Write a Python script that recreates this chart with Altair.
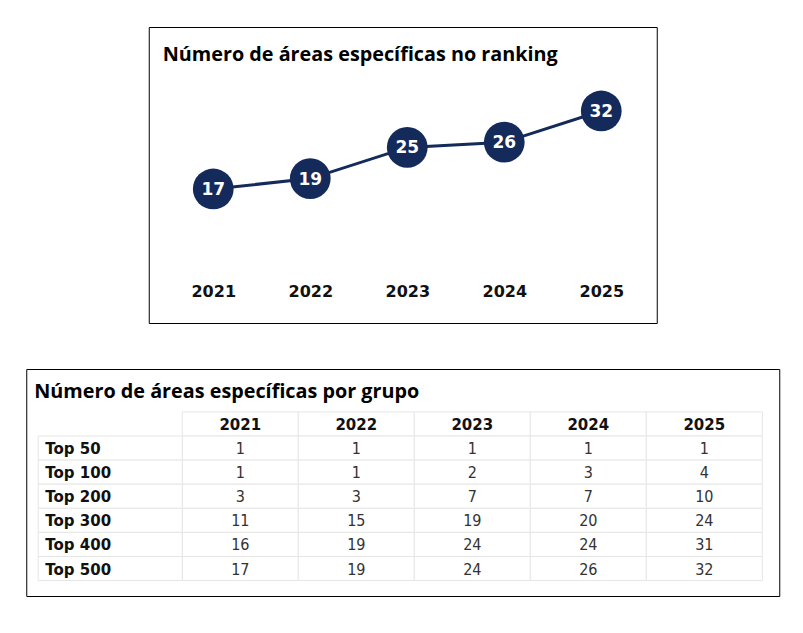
import altair as alt
import pandas as pd

years = [2021, 2022, 2023, 2024, 2025]
totals = [17, 19, 25, 26, 32]
groups = ["Top 50", "Top 100", "Top 200", "Top 300", "Top 400", "Top 500"]
table_values = {
    "Top 50": [1, 1, 1, 1, 1],
    "Top 100": [1, 1, 2, 3, 4],
    "Top 200": [3, 3, 7, 7, 10],
    "Top 300": [11, 15, 19, 20, 24],
    "Top 400": [16, 19, 24, 24, 31],
    "Top 500": [17, 19, 24, 26, 32],
}

NAVY = "#132a5a"

# ---------- top line chart ----------
line_df = pd.DataFrame({"year": years, "total": totals})
xs = alt.Scale(domain=[2020.335, 2025.572], nice=False, zero=False)
ys = alt.Scale(domain=[-8.77, 48.15], nice=False, zero=False)

base = alt.Chart(line_df).encode(
    x=alt.X("year:Q", scale=xs,
            axis=alt.Axis(title=None, values=years, format="d", grid=False,
                          domain=False, ticks=False, labelPadding=0, offset=-40,
                          labelFont="DejaVu Sans", labelFontWeight="bold",
                          labelFontSize=16, labelColor="#111111", labelFlush=False)),
    y=alt.Y("total:Q", scale=ys, axis=None),
)
line = base.mark_line(color=NAVY, strokeWidth=3)
dots = base.mark_circle(color=NAVY, size=1660, opacity=1)
labels = base.mark_text(color="white", font="DejaVu Sans", fontWeight="bold",
                        fontSize=17, baseline="middle", dy=1).encode(text="total:Q")

top = alt.layer(line, dots, labels).properties(
    width=508, height=296,
    title=alt.TitleParams("Número de áreas específicas no ranking", anchor="start",
                          font="Open Sans", fontSize=19.8, fontWeight="bold",
                          color="#000000", offset=-38, dx=14),
)

# ---------- bottom table ----------
rows = []
for i, g in enumerate(groups):
    for j, yr in enumerate(years):
        rows.append({"row": i + 1, "year": yr, "value": table_values[g][j], "group": g})
val_df = pd.DataFrame(rows)
head_df = pd.DataFrame({"row": [0] * len(years), "year": years})
lab_df = pd.DataFrame({"row": list(range(1, len(groups) + 1)), "group": groups})

txs = alt.Scale(domain=[2019.155, 2025.646], nice=False, zero=False)
tys = alt.Scale(domain=[-2.28, 7.14], nice=False, zero=False, reverse=True)

cell_style = dict(fill="white", stroke="#e6e6e6", strokeWidth=1)

year_cells = alt.Chart(pd.concat([head_df, val_df[["row", "year"]]])).transform_calculate(
    x0="datum.year - 0.5", x1="datum.year + 0.5",
    y0="datum.row - 0.5", y1="datum.row + 0.5",
).mark_rect(**cell_style).encode(
    x=alt.X("x0:Q", scale=txs, axis=None), x2="x1:Q",
    y=alt.Y("y0:Q", scale=tys, axis=None), y2="y1:Q",
)
label_cells = alt.Chart(lab_df).transform_calculate(
    x0="2019.258", x1="2020.5",
    y0="datum.row - 0.5", y1="datum.row + 0.5",
).mark_rect(**cell_style).encode(
    x=alt.X("x0:Q", scale=txs, axis=None), x2="x1:Q",
    y=alt.Y("y0:Q", scale=tys, axis=None), y2="y1:Q",
)
head_text = alt.Chart(head_df).mark_text(
    font="DejaVu Sans", fontWeight="bold", fontSize=15, color="#111111",
    baseline="middle", dy=1,
).encode(
    x=alt.X("year:Q", scale=txs, axis=None),
    y=alt.Y("row:Q", scale=tys, axis=None),
    text=alt.Text("year:Q", format="d"),
)
lab_text = alt.Chart(lab_df).transform_calculate(xl="2019.319").mark_text(
    font="DejaVu Sans", fontWeight="bold", fontSize=15, color="#111111",
    baseline="middle", align="left", dy=1,
).encode(
    x=alt.X("xl:Q", scale=txs, axis=None),
    y=alt.Y("row:Q", scale=tys, axis=None),
    text="group:N",
)
val_text = alt.Chart(val_df).mark_text(
    font="DejaVu Sans Condensed, Liberation Sans", fontSize=16, color="#333333",
    baseline="middle", dy=1,
).encode(
    x=alt.X("year:Q", scale=txs, axis=None),
    y=alt.Y("row:Q", scale=tys, axis=None),
    text="value:Q",
)

bottom = alt.layer(year_cells, label_cells, head_text, lab_text, val_text).properties(
    width=753, height=227,
    title=alt.TitleParams("Número de áreas específicas por grupo", anchor="start",
                          font="Open Sans", fontSize=19.8, fontWeight="bold",
                          color="#000000", offset=-33, dx=8),
)

chart = alt.vconcat(top, bottom, spacing=44, center=True).properties(
    padding={"left": 17, "top": 18, "right": 5, "bottom": 5},
    background="white",
).configure_view(stroke="#000000", strokeWidth=1)

chart.save("out.html", embed_options={"renderer": "svg", "actions": False})
